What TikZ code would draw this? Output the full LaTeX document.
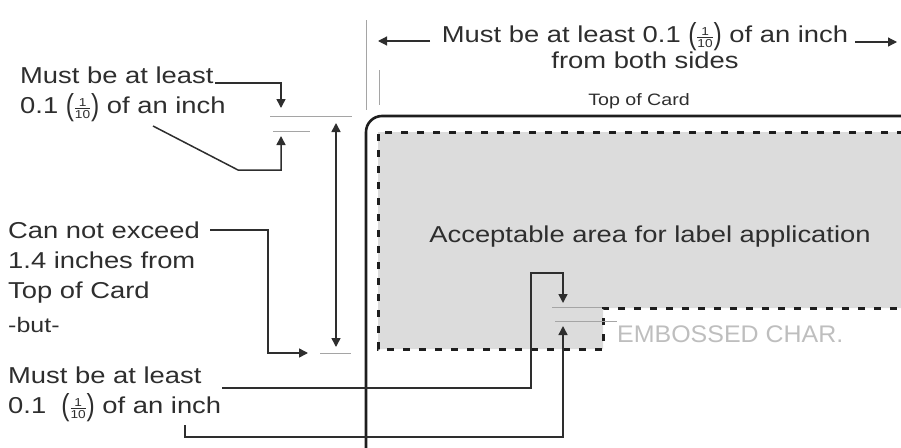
\documentclass[tikz,border=0pt]{standalone}
\usepackage{amsmath}
\usepackage{graphicx}
\usepackage{fontspec}
\setmainfont[FakeStretch=1.19]{Liberation Sans}
\newfontfamily\embfont[FakeStretch=1.04]{Liberation Sans}
\usetikzlibrary{arrows.meta}
\definecolor{ink}{HTML}{2E2E2E}
\definecolor{cardink}{HTML}{1E1E1E}
\definecolor{areagray}{HTML}{DCDCDC}
\definecolor{guide}{HTML}{A5A5A5}
\definecolor{embgray}{HTML}{BEBEBE}
\newcommand{\tallparen}[1]{\raisebox{-2.2pt}{\scalebox{0.9}[1.32]{#1}}}
\newcommand{\tenth}{\tallparen{(}\kern-0.3pt$\genfrac{}{}{0.6pt}{2}{\text{1}}{\text{10}}$\kern-0.3pt\tallparen{)}}
\begin{document}
\begin{tikzpicture}[x=1pt,y=-1pt,
  txt/.style={inner sep=0pt, text=ink, font=\fontsize{23}{30}\selectfont, anchor=base west},
  smalltxt/.style={txt, font=\fontsize{16.5}{20}\selectfont},
  conn/.style={draw=ink, line width=1.5pt},
  arr/.style={conn, -{Triangle[length=9pt,width=9pt]}},
  guideline/.style={draw=guide, line width=0.9pt},
  dashline/.style={draw=cardink, line width=3pt, dash pattern=on 7pt off 9pt},
  cardline/.style={draw=cardink, line width=2.6pt, rounded corners=16pt}]
\useasboundingbox (0,0) rectangle (901,447);
\clip (0,0) rectangle (901,447);

% acceptable area
\path[fill=areagray] (920,132) -- (378,132) -- (378,349) -- (603,349) -- (603,308) -- (920,308) -- cycle;
\draw[dashline] (920,132) -- (378,132) -- (378,349) -- (603,349) -- (603,308) -- (920,308);

% card
\draw[cardline] (366,116) rectangle (980,480);

% guide lines
\draw[guideline] (366,20) -- (366,110);
\draw[guideline] (379,70) -- (379,105);
\draw[guideline] (270,116) -- (352,116);
\draw[guideline] (273,131) -- (310,131);
\draw[guideline] (320,353) -- (351,353);
\draw[guideline] (552,307) -- (602,307);
\draw[guideline] (555,321) -- (617,321);

% texts
\node[txt, anchor=base] (top1) at (645,42) {Must be at least 0.1 \tenth{} of an inch};
\node[txt, anchor=base] (top2) at (645,68) {from both sides};
\node[smalltxt, anchor=base] (toc) at (639,105) {Top of Card};

\node[txt] (a1) at (20,83) {Must be at least};
\node[txt] (a2) at (20,113) {0.1 \tenth{} of an inch};

\node[txt] (b1) at (8,238) {Can not exceed};
\node[txt] (b2) at (8,268) {1.4 inches from};
\node[txt] (b3) at (8,298) {Top of Card};
\node[inner sep=0pt, anchor=base west, text=ink, font=\fontsize{21}{24}\selectfont] (b4) at (8,332) {-but-};

\node[txt] (d1) at (8,383) {Must be at least};
\node[txt] (d2) at (8,413) {0.1 \ \tenth{} of an inch};

\node[txt, anchor=base] (acc) at (650,242) {Acceptable area for label application};
\node[anchor=base west, inner sep=0pt, text=embgray, font=\embfont\fontsize{24}{28}\selectfont] (emb) at (617,342) {EMBOSSED CHAR.};

% coordinates for connectors
\coordinate (tl1) at (430,41);  \coordinate (tl2) at (378,41);
\coordinate (tr1) at (855,42);  \coordinate (tr2) at (897,42);
\coordinate (p1s) at (215,83);  \coordinate (p1e) at (281,108);
\coordinate (p2s) at (153,126); \coordinate (p2m) at (238,170); \coordinate (p2e) at (281,136);
\coordinate (v1) at (336,123);  \coordinate (v2) at (336,347);
\coordinate (q1s) at (210,230); \coordinate (q1m) at (268,353); \coordinate (q1e) at (308,353);
\coordinate (r1s) at (222,388); \coordinate (r1m) at (531,273); \coordinate (r1e) at (563,303);
\coordinate (r2s) at (185,425); \coordinate (r2m) at (563,437); \coordinate (r2e) at (563,326);

% connectors
\draw[arr, line width=1.2pt] (tl1) -- (tl2);
\draw[arr, line width=1.2pt] (tr1) -- (tr2);
\draw[arr] (p1s) -| (p1e);
\draw[arr] (p2s) -- (p2m) -| (p2e);
\draw[conn, {Triangle[length=9pt,width=9pt]}-{Triangle[length=9pt,width=9pt]}] (v1) -- (v2);
\draw[arr] (q1s) -| (q1m) -- (q1e);
\draw[arr] (r1s) -| (r1m) -| (r1e);
\draw[arr] (r2s) |- (r2m) -- (r2e);
\end{tikzpicture}
\end{document}
